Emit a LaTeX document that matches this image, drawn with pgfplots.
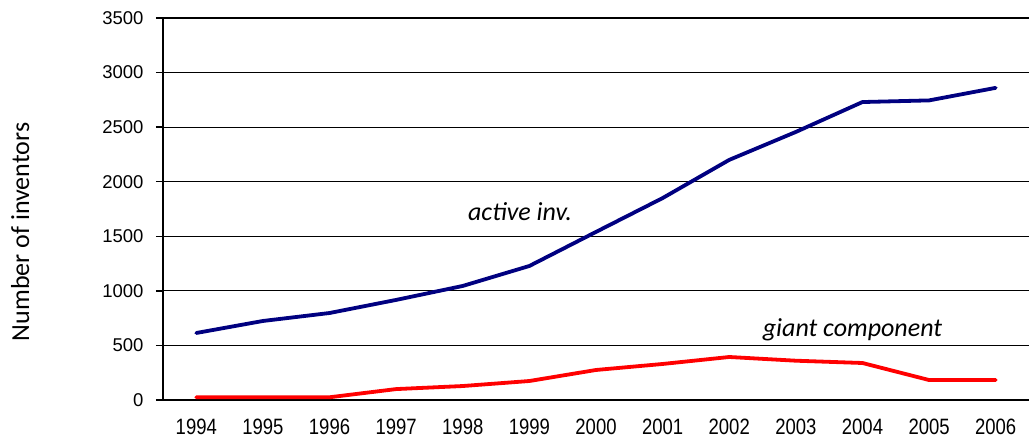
\documentclass[border=0pt]{standalone}
\usepackage{pgfplots}
\pgfplotsset{compat=1.18}
\usepackage{fontspec}
\setmainfont{Liberation Sans}
\newfontfamily\annfont{Carlito}
\definecolor{navyline}{RGB}{0,0,128}
\definecolor{redline}{RGB}{255,0,0}
\begin{document}
\begin{tikzpicture}
\begin{axis}[
  name=ax,
  scale only axis,
  width=866pt, height=382pt,
  xmin=-0.5, xmax=12.5, ymin=0, ymax=3500,
  axis lines*=left,
  axis line style={black, line width=1.4pt},
  xtick={0,...,12},
  xticklabels={1994,1995,1996,1997,1998,1999,2000,2001,2002,2003,2004,2005,2006},
  x tick style={draw=none},
  extra x ticks={-0.5,0.5,...,12.5},
  extra x tick labels={},
  extra x tick style={tick style={draw=black, line width=1.4pt}, major tick length=7pt},
  ytick={0,500,...,3500},
  y tick style={black, line width=1.4pt},
  major tick length=7pt,
  tick align=outside,
  ymajorgrids,
  grid style={black, line width=1.1pt},
  tick label style={font=\fontsize{18.5}{20}\selectfont},
  /pgf/number format/assume math mode=true,
  /pgf/number format/1000 sep={},
  xticklabel style={yshift=-8pt, yscale=1.2},
  yticklabel style={xshift=-9pt},
  ylabel={Number of inventors},
  ylabel style={at={(axis description cs:-0.165,0.44)}, anchor=center, font=\annfont\fontsize{26}{28}\selectfont},
  clip=false,
]
\addplot[navyline, line width=3.8pt, line join=round, line cap=round] coordinates {
(0,614) (1,724) (2,797) (3,917) (4,1045) (5,1228) (6,1540) (7,1850) (8,2200) (9,2456) (10,2730) (11,2745) (12,2860)
};
\addplot[redline, line width=3.8pt, line join=round, line cap=round] coordinates {
(0,25) (1,25) (2,25) (3,100) (4,128) (5,174) (6,275) (7,330) (8,394) (9,360) (10,339) (11,183) (12,183)
};
\node[font=\annfont\itshape\fontsize{26}{28}\selectfont] at (axis cs:4.86,1723) {active inv.};
\node[font=\annfont\itshape\fontsize{26}{28}\selectfont] at (axis cs:9.85,641) {giant component};
\end{axis}
\pgfresetboundingbox
\path ([xshift=-163pt,yshift=-43pt]ax.south west) rectangle ([yshift=18pt]ax.north east);
\end{tikzpicture}
\end{document}
